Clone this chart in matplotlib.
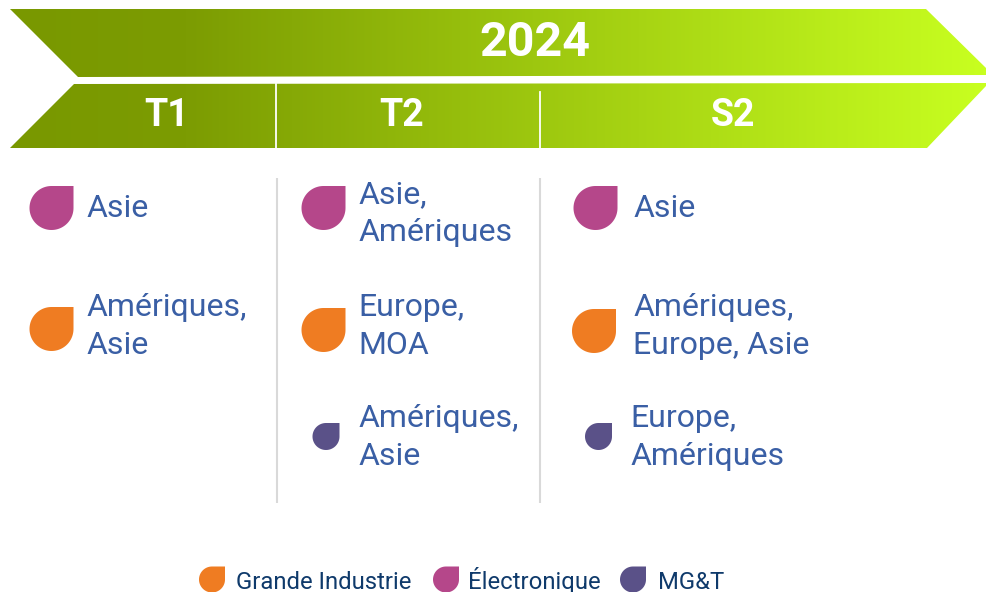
import matplotlib
matplotlib.use("Agg")
import matplotlib.pyplot as plt
import numpy as np
from matplotlib.colors import LinearSegmentedColormap
from matplotlib.patches import Polygon

plt.rcParams['font.family'] = ['Roboto', 'DejaVu Sans']

# Content
title = "2024"
periods = ["T1", "T2", "S2"]
asie_labels = ["Asie", "Asie,\nAmériques", "Asie"]
industrie_labels = ["Amériques,\nAsie", "Europe,\nMOA", "Amériques,\nEurope, Asie"]
mgt_labels = [None, "Amériques,\nAsie", "Europe,\nAmériques"]
legend_labels = ["Grande Industrie", "Électronique", "MG&T"]

ORANGE = "#EF7C22"
PINK = "#B5478A"
PURPLE = "#5A5188"
BLUE = "#3A5FA5"
NAVY = "#0F3A6B"

W, H = 986, 592
fig = plt.figure(figsize=(W / 100, H / 100), dpi=100)
ax = fig.add_axes([0, 0, 1, 1])
cmap = LinearSegmentedColormap.from_list("band", [(0, "#799800"), (0.18, "#7C9C02"), (1, "#C8FF20")])


def band(points):
    # horizontal gradient clipped to the arrow shape
    grad = np.linspace(0, 1, 512).reshape(1, -1)
    im = ax.imshow(grad, extent=(10, W, H, 0), cmap=cmap, aspect='auto', zorder=1)
    poly = Polygon(points, closed=True, transform=ax.transData, fc='none', ec='none')
    ax.add_patch(poly)
    im.set_clip_path(poly)


def drop(cx, cy, r, color):
    # circle with a square top right corner
    t = np.radians(np.linspace(90, 360, 80))
    xs = np.r_[cx + r * np.cos(t), cx + r]
    ys = np.r_[cy - r * np.sin(t), cy - r]
    ax.add_patch(Polygon(np.c_[xs, ys], closed=True, fc=color, ec='none', zorder=3))


def label(x, y, txt, size=23, color=BLUE):
    # y is the baseline of the first line, 38 px between lines
    for i, line in enumerate(txt.split("\n")):
        ax.text(x, y + i * 38, line, fontsize=size, color=color, va='baseline', ha='left', zorder=4)


band([(10, 9), (926, 9), (986, 68), (986, 75), (78, 77)])
band([(74, 84), (986, 83), (986, 86), (927, 148), (10, 148)])

# separators in the lower band
ax.plot([276, 276], [84, 148], color='white', lw=1.3, zorder=2)
ax.plot([540, 540], [92, 148], color='white', lw=1.3, zorder=2)

ax.text(534.5, 56, title, fontsize=34.8, fontweight='bold', color='white', ha='center', va='baseline', zorder=4)
for x, p in zip([166.5, 402, 733], periods):
    ax.text(x, 126.5, p, fontsize=27, fontweight='bold', color='white', ha='center', va='baseline', zorder=4)

# grey column lines
for x in [276.5, 540]:
    ax.plot([x, x], [178, 503], color='#D9D9D9', lw=1.5, zorder=2, solid_capstyle='butt')

# Électronique row
for (tx, dx), txt, base in zip([(86.5, 51.5), (358.5, 323.5), (633, 595.5)], asie_labels, [217, 203, 217]):
    drop(dx, 208, 22, PINK)
    label(tx, base, txt)

# Grande Industrie row
for (tx, dx, dy), txt in zip([(86.5, 51.5, 329), (358.5, 323.5, 330), (633, 594, 331)], industrie_labels):
    drop(dx, dy, 22, ORANGE)
    label(tx, 316, txt)

# MG&T row
for (tx, dx), txt in zip([(0, 0), (358.5, 326), (630.5, 598.5)], mgt_labels):
    if txt is None:
        continue
    drop(dx, 436.5, 13.5, PURPLE)
    label(tx, 427, txt)

# legend
for dx, tx, col, txt in zip([212, 446, 633], [236, 468, 658], [ORANGE, PINK, PURPLE], legend_labels):
    drop(dx, 579.5, 13, col)
    label(tx, 589, txt, size=17.2, color=NAVY)

ax.set_xlim(0, W)
ax.set_ylim(H, 0)
ax.axis('off')
fig.savefig("out.png", dpi=100, facecolor='white')
